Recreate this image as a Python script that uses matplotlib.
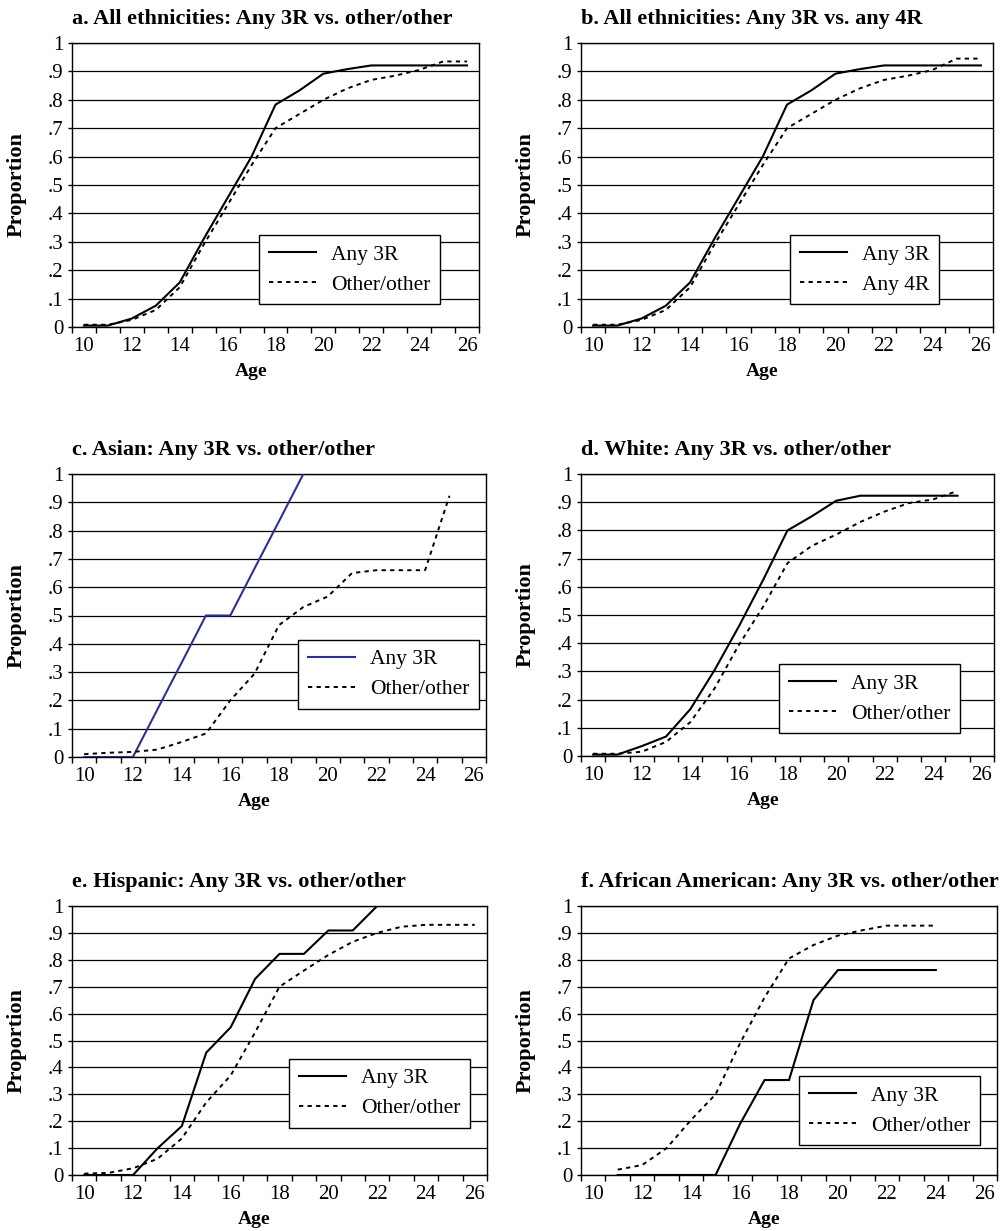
import matplotlib
matplotlib.use("Agg")
import matplotlib.pyplot as plt
import numpy as np

plt.rcParams['font.family'] = ['Liberation Serif', 'DejaVu Serif']

ages = list(range(10, 27))

# Panel a
a_title = "a. All ethnicities: Any 3R vs. other/other"
a_ages_s = list(range(10, 27))
a_any3r = [0.005, 0.005, 0.03, 0.075, 0.157, 0.31, 0.455, 0.60, 0.783, 0.833, 0.892, 0.908, 0.921, 0.921, 0.921, 0.921, 0.921]
a_ages_d = list(range(10, 27))
a_other = [0.008, 0.008, 0.025, 0.06, 0.14, 0.29, 0.43, 0.57, 0.70, 0.75, 0.80, 0.84, 0.87, 0.885, 0.905, 0.935, 0.935]

# Panel b
b_title = "b. All ethnicities: Any 3R vs. any 4R"
b_ages_s = list(range(10, 27))
b_any3r = [0.005, 0.005, 0.03, 0.075, 0.157, 0.31, 0.455, 0.60, 0.783, 0.833, 0.892, 0.908, 0.921, 0.921, 0.921, 0.921, 0.921]
b_ages_d = list(range(10, 27))
b_any4r = [0.008, 0.008, 0.025, 0.06, 0.14, 0.29, 0.43, 0.57, 0.70, 0.75, 0.80, 0.84, 0.87, 0.885, 0.905, 0.945, 0.945]

# Panel c
c_title = "c. Asian: Any 3R vs. other/other"
c_ages_s = list(range(10, 20))
c_any3r = [0.0, 0.0, 0.0, 0.167, 0.333, 0.5, 0.5, 0.667, 0.833, 1.0]
c_ages_d = list(range(10, 26))
c_other = [0.01, 0.015, 0.018, 0.026, 0.053, 0.083, 0.2, 0.295, 0.466, 0.53, 0.567, 0.65, 0.66, 0.66, 0.66, 0.923]

# Panel d
d_title = "d. White: Any 3R vs. other/other"
d_ages_s = list(range(10, 26))
d_any3r = [0.005, 0.005, 0.035, 0.069, 0.166, 0.305, 0.46, 0.625, 0.80, 0.85, 0.905, 0.923, 0.923, 0.923, 0.923, 0.923]
d_ages_d = list(range(10, 26))
d_other = [0.008, 0.008, 0.015, 0.05, 0.12, 0.24, 0.394, 0.53, 0.684, 0.745, 0.785, 0.83, 0.867, 0.897, 0.91, 0.94]

# Panel e
e_title = "e. Hispanic: Any 3R vs. other/other"
e_ages_s = list(range(10, 23))
e_any3r = [0.0, 0.0, 0.0, 0.099, 0.182, 0.455, 0.549, 0.729, 0.822, 0.822, 0.909, 0.909, 1.0]
e_ages_d = list(range(10, 27))
e_other = [0.005, 0.008, 0.025, 0.06, 0.136, 0.27, 0.37, 0.53, 0.70, 0.76, 0.818, 0.867, 0.90, 0.923, 0.93, 0.93, 0.93]

# Panel f
f_title = "f. African American: Any 3R vs. other/other"
f_ages_s = list(range(11, 25))
f_any3r = [0.0, 0.0, 0.0, 0.0, 0.0, 0.19, 0.353, 0.353, 0.65, 0.762, 0.762, 0.762, 0.762, 0.762]
f_ages_d = list(range(11, 25))
f_other = [0.02, 0.037, 0.1, 0.205, 0.30, 0.49, 0.66, 0.805, 0.855, 0.89, 0.91, 0.927, 0.927, 0.927]

yticks = [i / 10 for i in range(11)]
ytick_labels = ["0", ".1", ".2", ".3", ".4", ".5", ".6", ".7", ".8", ".9", "1"]
xtick_labels = ["10", "12", "14", "16", "18", "20", "22", "24", "26"]

W, H = 1007, 1231
fig = plt.figure(figsize=(W / 100, H / 100), dpi=100)

panels = [
    (a_title, a_ages_s, a_any3r, a_ages_d, a_other, ["Any 3R", "Other/other"], "black", (72, 479, 43, 327), (0.46, 0.08)),
    (b_title, b_ages_s, b_any3r, b_ages_d, b_any4r, ["Any 3R", "Any 4R"], "black", (581, 993, 43, 327), (0.507, 0.08)),
    (c_title, c_ages_s, c_any3r, c_ages_d, c_other, ["Any 3R", "Other/other"], "#2E3192", (72, 486, 474, 757), (0.546, 0.17)),
    (d_title, d_ages_s, d_any3r, d_ages_d, d_other, ["Any 3R", "Other/other"], "black", (581, 994, 474, 756), (0.48, 0.08)),
    (e_title, e_ages_s, e_any3r, e_ages_d, e_other, ["Any 3R", "Other/other"], "black", (72, 487, 906, 1175), (0.523, 0.175)),
    (f_title, f_ages_s, f_any3r, f_ages_d, f_other, ["Any 3R", "Other/other"], "black", (581, 997, 906, 1175), (0.524, 0.11)),
]

for title, xs, ys, xd, yd, labels, scol, box, lanchor in panels:
    l, r, t, b = box
    ax = fig.add_axes([l / W, 1 - b / H, (r - l) / W, (b - t) / H])
    ax.set_xlim(9.5, 26.5)
    ax.set_ylim(0, 1)
    for y in yticks:
        ax.axhline(y, color="black", lw=0.9, zorder=1)
    ax.plot(xs, ys, color=scol, lw=1.5, solid_joinstyle="miter", zorder=3, label=labels[0])
    ax.plot(xd, yd, color="black", lw=1.4, linestyle=(0, (2.2, 2.2)), zorder=3, label=labels[1])
    ax.set_yticks(yticks)
    ax.set_yticklabels(ytick_labels, fontsize=15)
    ax.set_xticks([x + 0.5 for x in range(9, 27)])
    ax.set_xticklabels([""] * 18)
    ax.set_xticks([int(s) for s in xtick_labels], minor=True)
    ax.set_xticklabels(xtick_labels, minor=True, fontsize=15)
    ax.tick_params(axis="x", which="major", direction="out", length=4.3, width=1, color="black")
    ax.tick_params(axis="x", which="minor", length=0, pad=7.5)
    ax.tick_params(axis="y", direction="out", length=3, width=1, pad=3)
    for sp in ax.spines.values():
        sp.set_color("black")
        sp.set_linewidth(1.0)
    ax.set_title(title, loc="left", fontsize=16, fontweight="bold", pad=14)
    ax.set_ylabel("Proportion", fontsize=16, fontweight="bold")
    ax.yaxis.set_label_coords(-45 / (r - l), 0.5)
    ax.set_xlabel("Age", fontsize=14, fontweight="bold", labelpad=5)
    ax.xaxis.label.set_x(0.44)
    leg = ax.legend(loc="lower left", bbox_to_anchor=lanchor, borderaxespad=0, fontsize=15.5,
                    frameon=True, fancybox=False, handlelength=2.2, handletextpad=0.7,
                    labelspacing=0.45, borderpad=0.45, framealpha=1)
    leg.get_frame().set_edgecolor("black")
    leg.get_frame().set_linewidth(1.0)
    leg.set_zorder(5)

fig.savefig("out.png", dpi=100)
